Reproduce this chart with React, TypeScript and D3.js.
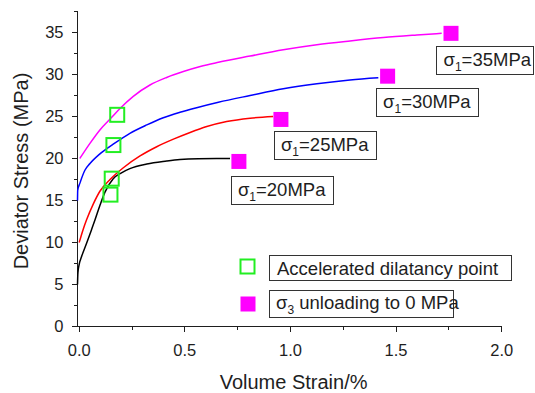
import React from "react";
import * as d3 from "d3";

const W = 535;
const H = 393;

// Deviator stress vs volume strain for four axial stress levels (σ1)
const curve20: [number, number][] = [
  [-0.008, 5.0], [-0.006, 6.4], [0.0, 7.4], [0.011, 8.3], [0.035, 9.9], [0.058, 11.5],
  [0.075, 12.7], [0.098, 14.4], [0.122, 16.0], [0.161, 17.6], [0.2, 18.3], [0.24, 18.8],
  [0.32, 19.35], [0.414, 19.7], [0.477, 19.88], [0.564, 19.98], [0.65, 20.0], [0.714, 20.0],
];
const curve25: [number, number][] = [
  [0.0, 10.0], [0.018, 11.5], [0.035, 12.7], [0.067, 14.6], [0.098, 16.1], [0.146, 17.5],
  [0.209, 18.9], [0.288, 20.3], [0.367, 21.4], [0.446, 22.3], [0.525, 23.1], [0.604, 23.8],
  [0.698, 24.4], [0.809, 24.8], [0.918, 25.0],
];
const curve30: [number, number][] = [
  [-0.008, 15.0], [-0.007, 16.2], [0.004, 17.1], [0.027, 18.6], [0.051, 19.4], [0.098, 20.55],
  [0.161, 21.7], [0.24, 23.0], [0.32, 24.0], [0.398, 24.85], [0.477, 25.5], [0.556, 26.05],
  [0.659, 26.7], [0.809, 27.5], [0.966, 28.3], [1.125, 28.9], [1.282, 29.35], [1.416, 29.6],
];
const curve35: [number, number][] = [
  [0.003, 20.0], [0.051, 21.8], [0.098, 23.4], [0.154, 24.9], [0.193, 25.95], [0.256, 27.4],
  [0.335, 28.75], [0.414, 29.65], [0.493, 30.35], [0.573, 30.95], [0.659, 31.45], [0.809, 32.2],
  [0.966, 32.95], [1.125, 33.55], [1.282, 34.0], [1.44, 34.4], [1.598, 34.7], [1.716, 34.9],
];

const sigma1Levels = [20, 25, 30, 35];
const curveColors = ["#000000", "#ff0000", "#0000ff", "#ff00ff"];

// Accelerated dilatancy points
const dilatancyStrain = [0.148, 0.154, 0.162, 0.18];
const dilatancyStress = [15.7, 17.6, 21.6, 25.2];

// σ3 unloading points
const unloadStrain = [0.756, 0.955, 1.46, 1.76];
const unloadStress = [19.65, 24.65, 29.8, 34.9];

const xMajorTicks = [0, 0.5, 1.0, 1.5, 2.0];
const xMinorTicks = [0.25, 0.75, 1.25, 1.75];
const yMajorTicks = [0, 5, 10, 15, 20, 25, 30, 35];
const yMinorTicks = [2.5, 7.5, 12.5, 17.5, 22.5, 27.5, 32.5, 37.5];

const xTitle = "Volume Strain/%";
const yTitle = "Deviator Stress (MPa)";
const legendDilatancy = "Accelerated dilatancy point";
const legendUnload = " unloading to 0 MPa";

// Label box offsets from the unloading marker (px)
const labelOffsets = [
  { dx: -8, dy: 15 },
  { dx: -7, dy: 11.5 },
  { dx: -11.5, dy: 12 },
  { dx: -14.5, dy: 13 },
];

const FONT = "'Liberation Sans', Arial, Helvetica, sans-serif";
const INK = "#1e1e1e";

export default function App() {
  const x = d3.scaleLinear().domain([-0.008, 2.0]).range([77.5, 501.7]);
  const y = d3.scaleLinear().domain([0, 37.5]).range([326.5, 11.5]);
  const [x0, x1] = x.range();
  const [y0, y1] = y.range();

  const line = d3
    .line<[number, number]>()
    .x((d) => x(d[0]))
    .y((d) => y(d[1]))
    .curve(d3.curveMonotoneX);

  const curves = [curve20, curve25, curve30, curve35];

  const boxW = 102;
  const boxH = 28;

  return (
    <svg
      width={W}
      height={H}
      viewBox={`0 0 ${W} ${H}`}
      style={{ position: "absolute", left: 0, top: 0, background: "#fff" }}
      fontFamily={FONT}
    >
      <rect width={W} height={H} fill="#fff" />

      {/* axes */}
      <g stroke={INK} strokeWidth={1} shapeRendering="crispEdges">
        <line x1={x0} x2={x0} y1={y1} y2={y0} />
        <line x1={x0} x2={x1} y1={y0} y2={y0} />
        {yMajorTicks.map((t) => (
          <line key={"ym" + t} x1={x0 - 6} x2={x0} y1={y(t)} y2={y(t)} />
        ))}
        {yMinorTicks.map((t) => (
          <line key={"yn" + t} x1={x0 - 3.5} x2={x0} y1={y(t)} y2={y(t)} />
        ))}
        {xMajorTicks.map((t) => (
          <line key={"xm" + t} x1={x(t)} x2={x(t)} y1={y0} y2={y0 + 5} />
        ))}
        {xMinorTicks.map((t) => (
          <line key={"xn" + t} x1={x(t)} x2={x(t)} y1={y0} y2={y0 + 3} />
        ))}
      </g>
      <g fill={INK} fontSize={16.5}>
        {yMajorTicks.map((t) => (
          <text key={"yl" + t} x={x0 - 14} y={y(t)} dy="0.36em" textAnchor="end">
            {t}
          </text>
        ))}
        {xMajorTicks.map((t) => (
          <text key={"xl" + t} x={x(t)} y={y0 + 29} textAnchor="middle">
            {t.toFixed(1)}
          </text>
        ))}
      </g>
      <text x={(x0 + x1) / 2 + 4} y={389} textAnchor="middle" fontSize={20} fill={INK}>
        {xTitle}
      </text>
      <text
        transform={`translate(28,${(y0 + y1) / 2 + 2}) rotate(-90)`}
        textAnchor="middle"
        fontSize={20}
        fill={INK}
      >
        {yTitle}
      </text>

      {/* stress-strain curves */}
      {curves.map((c, i) => (
        <path key={"c" + i} d={line(c) || ""} fill="none" stroke={curveColors[i]} strokeWidth={1.5} />
      ))}

      {/* accelerated dilatancy points */}
      {dilatancyStrain.map((s, i) => (
        <rect
          key={"g" + i}
          x={x(s) - 7}
          y={y(dilatancyStress[i]) - 7}
          width={14}
          height={14}
          fill="none"
          stroke="#22ee22"
          strokeWidth={2}
        />
      ))}

      {/* σ3 unloading points with σ1 labels */}
      {unloadStrain.map((s, i) => {
        const cx = x(s);
        const cy = y(unloadStress[i]);
        const left = cx + labelOffsets[i].dx;
        const top = cy + labelOffsets[i].dy;
        const w = Math.min(boxW, W - 2 - left);
        return (
          <g key={"u" + i}>
            <rect x={cx - 7.5} y={cy - 7.5} width={15} height={15} fill="#ff00ff" />
            <rect
              x={Math.round(left) + 0.5}
              y={Math.round(top) + 0.5}
              width={Math.round(w)}
              height={boxH}
              fill="#fff"
              stroke="#333"
              strokeWidth={1}
            />
            <text x={left + 7} y={top + 20} fontSize={18.5} fill={INK}>
              <tspan>σ</tspan>
              <tspan fontSize={12} dy={5}>1</tspan>
              <tspan dy={-5}>{`=${sigma1Levels[i]}MPa`}</tspan>
            </text>
          </g>
        );
      })}

      {/* legend */}
      <g>
        <rect x={240.5} y={259.5} width={14} height={14} fill="none" stroke="#22ee22" strokeWidth={2} />
        <rect x={269.5} y={255.5} width={242} height={25} fill="#fff" stroke="#333" strokeWidth={1} />
        <text x={277} y={274.5} fontSize={18.5} fill={INK}>
          {legendDilatancy}
        </text>
        <rect x={240.5} y={296.5} width={15} height={15} fill="#ff00ff" />
        <rect x={269.5} y={290.5} width={184} height={27} fill="#fff" stroke="#333" strokeWidth={1} />
        <text x={276} y={308.5} fontSize={18.5} fill={INK}>
          <tspan>σ</tspan>
          <tspan fontSize={12} dy={5}>3</tspan>
          <tspan dy={-5}>{legendUnload}</tspan>
        </text>
      </g>
    </svg>
  );
}
